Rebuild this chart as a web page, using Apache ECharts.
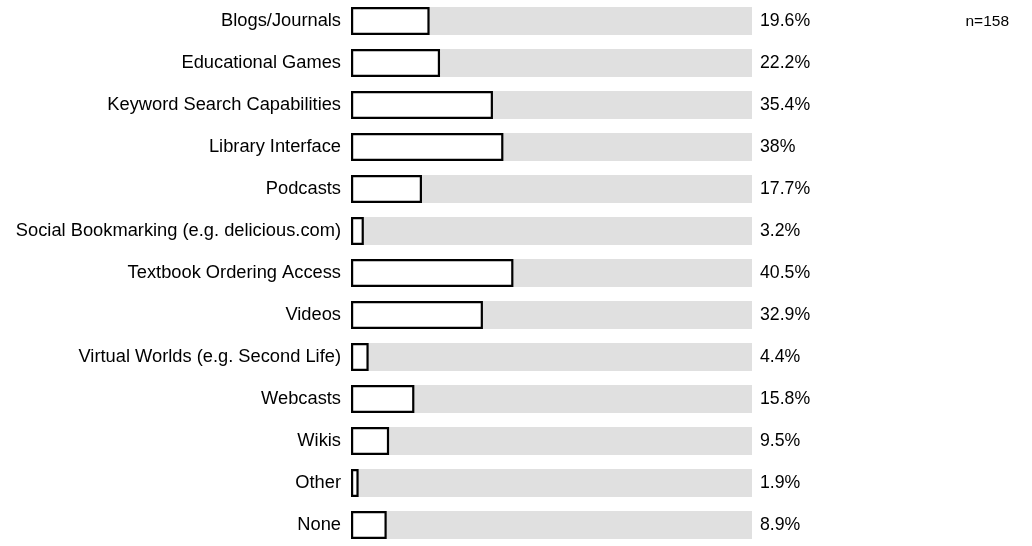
<!DOCTYPE html>
<html>
<head>
<meta charset="utf-8">
<script src="https://cdn.jsdelivr.net/npm/echarts@6/dist/echarts.min.js"></script>
<style>html,body{margin:0;padding:0;background:#fff}#c{width:1032px;height:546px}</style>
</head>
<body>
<div id="c"></div>
<script>
const categories = ["Blogs/Journals","Educational Games","Keyword Search Capabilities","Library Interface","Podcasts","Social Bookmarking (e.g. delicious.com)","Textbook Ordering Access","Videos","Virtual Worlds (e.g. Second Life)","Webcasts","Wikis","Other","None"];
const values = [19.6,22.2,35.4,38,17.7,3.2,40.5,32.9,4.4,15.8,9.5,1.9,8.9];
const fullScale = categories.map(() => 100);
const note = "n=158";

const FONT = 'Liberation Sans, Arial, sans-serif';
const chart = echarts.init(document.getElementById('c'));
chart.setOption({
  animation: false,
  backgroundColor: '#fff',
  textStyle: { fontFamily: FONT },
  title: {
    text: note, right: 18, top: 9,
    textStyle: { fontSize: 15.5, fontWeight: 'normal', color: '#000', fontFamily: FONT }
  },
  grid: { left: 351, right: 280, top: -3, bottom: -5, containLabel: false },
  xAxis: { type: 'value', min: 0, max: 100, show: false },
  yAxis: {
    type: 'category', data: categories, inverse: true,
    axisLine: { show: false }, axisTick: { show: false }, splitLine: { show: false },
    axisLabel: { color: '#000', fontSize: 18.3, margin: 10, fontFamily: FONT }
  },
  series: [
    {
      type: 'bar', data: fullScale, barWidth: 28, barGap: '-100%', silent: true,
      itemStyle: { color: '#e0e0e0' },
      label: {
        show: true, position: 'right', distance: 8, color: '#000', fontSize: 17.7,
        fontFamily: FONT,
        formatter: p => values[p.dataIndex] + '%'
      }
    },
    {
      type: 'bar', data: values, barWidth: 28, barGap: '-100%',
      itemStyle: { color: '#fff', borderColor: '#000', borderWidth: 2.2 }
    }
  ]
});
</script>
</body>
</html>
